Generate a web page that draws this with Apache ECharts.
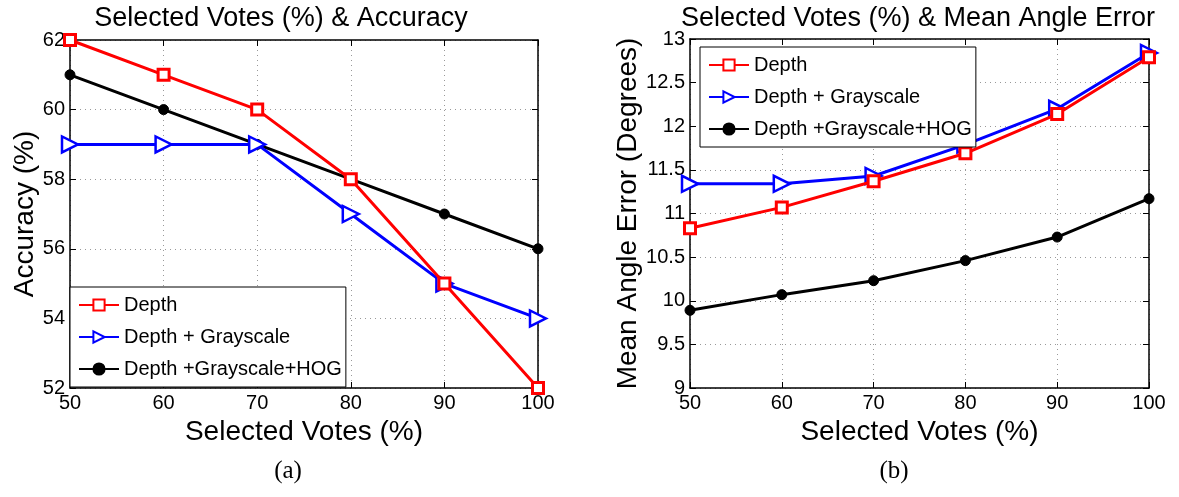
<!DOCTYPE html>
<html><head><meta charset="utf-8">
<script src="https://cdn.jsdelivr.net/npm/echarts@6/dist/echarts.min.js"></script>
<style>html,body{margin:0;padding:0;background:#fff}#c{width:1179px;height:497px}</style>
</head><body><div id="c"></div>
<script>
const votes = [50, 60, 70, 80, 90, 100];
const seriesNames = ['Depth', 'Depth + Grayscale', 'Depth +Grayscale+HOG'];
const accDepth = [62, 61, 60, 58, 55, 52];
const accGray = [59, 59, 59, 57, 55, 54];
const accHog = [61, 60, 59, 58, 57, 56];
const errDepth = [10.83, 11.07, 11.37, 11.69, 12.14, 12.79];
const errGray = [11.34, 11.34, 11.43, 11.79, 12.20, 12.84];
const errHog = [9.89, 10.07, 10.23, 10.46, 10.73, 11.17];

const FONT = '"Liberation Sans", Arial, sans-serif';
const pairs = ys => votes.map((v, i) => [v, ys[i]]);
const styles = [
  {color: '#ff0000', symbol: 'rect', symbolSize: 11, symbolRotate: 0, fill: '#ffffff', bw: 3},
  {color: '#0000ff', symbol: 'triangle', symbolSize: 16, symbolRotate: -90, fill: '#ffffff', bw: 2.5},
  {color: '#000000', symbol: 'circle', symbolSize: 10, symbolRotate: 0, fill: '#000000', bw: 1}
];
function mk(name, idx, ys, axisIdx) {
  const s = styles[idx];
  return {
    name, type: 'line', xAxisIndex: axisIdx, yAxisIndex: axisIdx,
    data: pairs(ys), symbol: s.symbol, symbolSize: s.symbolSize, symbolRotate: s.symbolRotate,
    showAllSymbol: true, animation: false, z: 3 + (2 - idx),
    lineStyle: {color: s.color, width: 3},
    itemStyle: {color: s.fill, borderColor: s.color, borderWidth: s.bw},
    emphasis: {disabled: true}
  };
}
const splitL = {show: true, lineStyle: {color: '#999', type: [1, 4], width: 1}};
function xMain(grid) {
  return {type: 'value', gridIndex: grid, min: 50, max: 100, interval: 10,
    name: 'Selected Votes (%)', nameLocation: 'middle', nameGap: 29,
    nameTextStyle: {fontFamily: FONT, fontSize: 28, color: '#000'},
    axisLine: {show: true, lineStyle: {color: '#000', width: 1.5}},
    axisTick: {show: true, inside: true, length: 6, lineStyle: {color: '#000'}},
    axisLabel: {fontFamily: FONT, fontSize: 20, color: '#000', margin: 5},
    splitLine: splitL};
}
function xTop(grid) {
  return {type: 'value', gridIndex: grid, min: 50, max: 100, interval: 10, position: 'top',
    axisLine: {show: true, lineStyle: {color: '#000', width: 1.5}},
    axisTick: {show: true, inside: true, length: 6, lineStyle: {color: '#000'}},
    axisLabel: {show: false}, splitLine: {show: false}};
}
function yMain(grid, min, max, interval, name, gap) {
  return {type: 'value', gridIndex: grid, min, max, interval,
    name, nameLocation: 'middle', nameGap: gap, nameRotate: 90,
    nameTextStyle: {fontFamily: FONT, fontSize: 28, color: '#000'},
    axisLine: {show: true, lineStyle: {color: '#000', width: 1.5}},
    axisTick: {show: true, inside: true, length: 6, lineStyle: {color: '#000'}},
    axisLabel: {fontFamily: FONT, fontSize: 20, color: '#000', margin: 5},
    splitLine: splitL};
}
function yRight(grid, min, max, interval) {
  return {type: 'value', gridIndex: grid, min, max, interval, position: 'right',
    axisLine: {show: true, lineStyle: {color: '#000', width: 1.5}},
    axisTick: {show: true, inside: true, length: 6, lineStyle: {color: '#000'}},
    axisLabel: {show: false}, splitLine: {show: false}};
}
function legend(left, top) {
  return {orient: 'vertical', left, top, data: seriesNames,
    backgroundColor: '#fff', borderColor: '#000', borderWidth: 1,
    padding: [8, 4, 8, 8], itemGap: 12, itemWidth: 40, itemHeight: 14,
    textStyle: {fontFamily: FONT, fontSize: 20, color: '#000'},
    selectedMode: false, z: 10};
}
const chart = echarts.init(document.getElementById('c'), null, {renderer: 'canvas'});
chart.setOption({
  animation: false,
  backgroundColor: '#fff',
  title: [
    {text: 'Selected Votes (%) & Accuracy', left: 276, top: 0, textAlign: 'center',
      textStyle: {fontFamily: FONT, fontSize: 27, fontWeight: 'normal', color: '#000'}},
    {text: 'Selected Votes (%) & Mean Angle Error', left: 913, top: 0, textAlign: 'center',
      textStyle: {fontFamily: FONT, fontSize: 27, fontWeight: 'normal', color: '#000'}},
    {text: '(a)', left: 283, top: 454, textAlign: 'center',
      textStyle: {fontFamily: '"Liberation Serif", serif', fontSize: 25, fontWeight: 'normal', color: '#000'}},
    {text: '(b)', left: 889, top: 454, textAlign: 'center',
      textStyle: {fontFamily: '"Liberation Serif", serif', fontSize: 25, fontWeight: 'normal', color: '#000'}}
  ],
  legend: [legend(70, 287), legend(700, 47)],
  grid: [
    {left: 70, right: 641, top: 40, bottom: 109, containLabel: false},
    {left: 690, right: 30, top: 39, bottom: 109, containLabel: false}
  ],
  xAxis: [xMain(0), xMain(1), xTop(0), xTop(1)],
  yAxis: [
    yMain(0, 52, 62, 2, 'Accuracy (%)', 30),
    yMain(1, 9, 13, 0.5, 'Mean Angle Error (Degrees)', 45),
    yRight(0, 52, 62, 2), yRight(1, 9, 13, 0.5)
  ],
  series: [
    mk(seriesNames[0], 0, accDepth, 0),
    mk(seriesNames[1], 1, accGray, 0),
    mk(seriesNames[2], 2, accHog, 0),
    mk(seriesNames[0], 0, errDepth, 1),
    mk(seriesNames[1], 1, errGray, 1),
    mk(seriesNames[2], 2, errHog, 1)
  ]
});
</script></body></html>
